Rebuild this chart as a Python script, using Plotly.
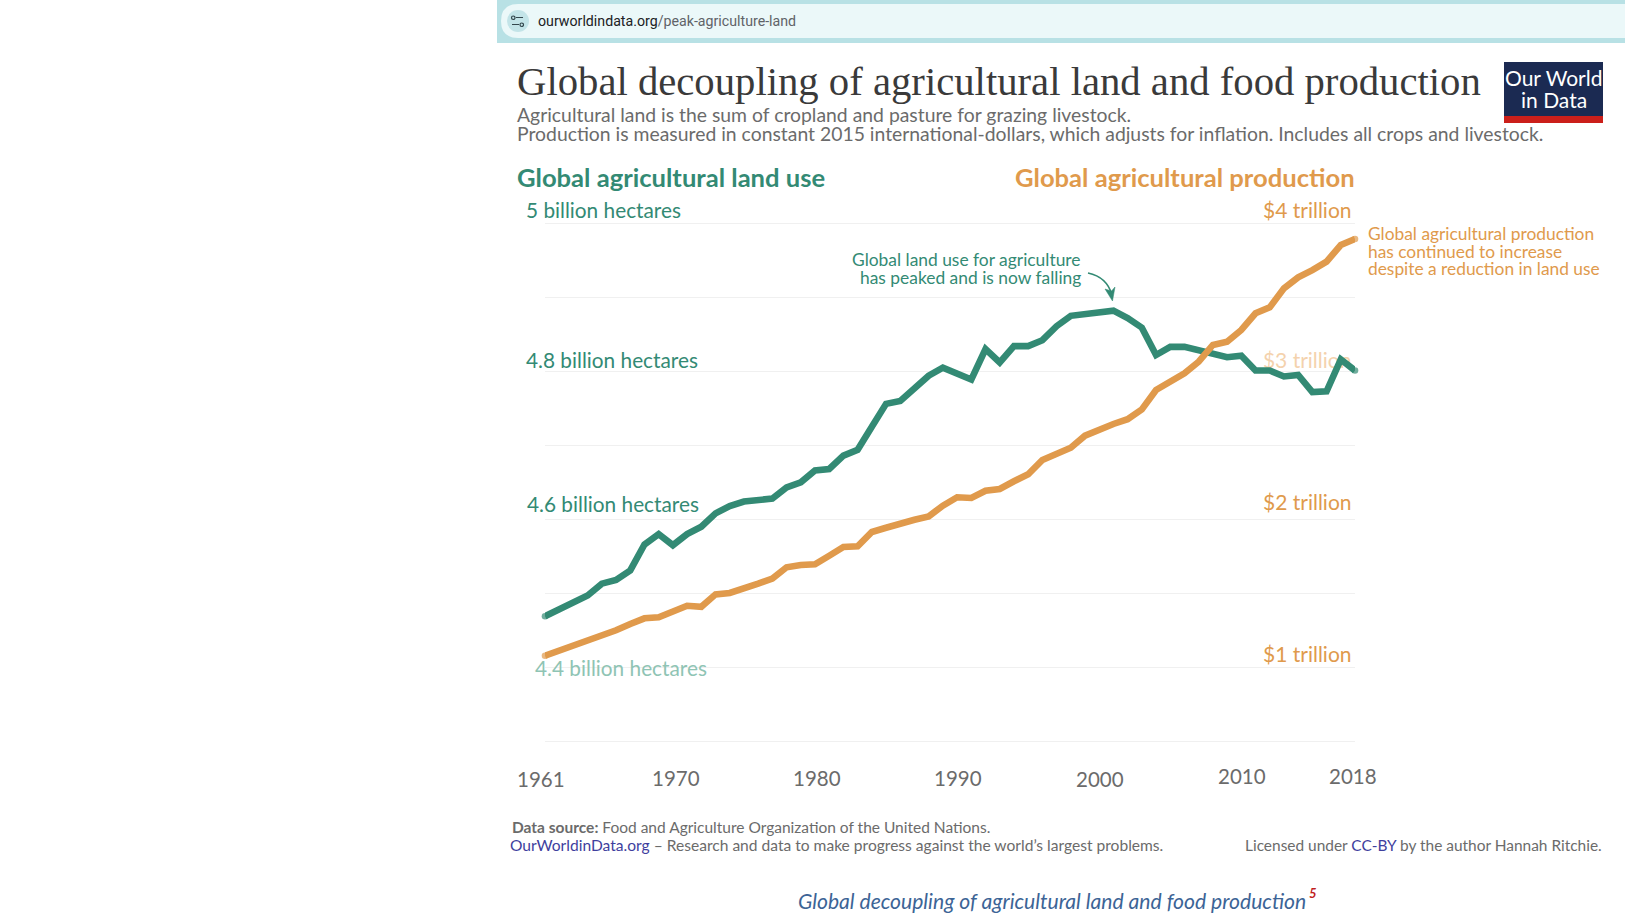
import plotly.graph_objects as go

W, H = 1625, 914
years = list(range(1961, 2019))
land_use = [4.469, 4.478, 4.488, 4.497, 4.513, 4.518, 4.531, 4.566, 4.580, 4.565,
            4.580, 4.590, 4.608, 4.618, 4.624, 4.626, 4.628, 4.643, 4.650, 4.666,
            4.668, 4.686, 4.694, 4.725, 4.756, 4.760, 4.776, 4.794, 4.805, 4.797,
            4.789, 4.830, 4.812, 4.834, 4.834, 4.842, 4.861, 4.875, 4.878, 4.880,
            4.882, 4.872, 4.859, 4.822, 4.833, 4.833, 4.828, 4.822, 4.819, 4.821,
            4.801, 4.801, 4.793, 4.795, 4.772, 4.773, 4.816, 4.801]
production = [1.078, 1.112, 1.146, 1.182, 1.207, 1.250, 1.293, 1.331, 1.338, 1.380,
              1.416, 1.409, 1.493, 1.502, 1.529, 1.565, 1.599, 1.676, 1.691, 1.696,
              1.754, 1.813, 1.818, 1.914, 1.943, 1.975, 1.997, 2.020, 2.092, 2.149,
              2.144, 2.193, 2.205, 2.257, 2.304, 2.401, 2.446, 2.484, 2.565, 2.610,
              2.644, 2.676, 2.743, 2.874, 2.926, 2.986, 3.065, 3.178, 3.200, 3.279,
              3.392, 3.432, 3.561, 3.635, 3.684, 3.741, 3.853, 3.894]

GREEN = "#338a74"
ORANGE = "#e09a4c"
GRAY = "#6b6b6b"
LINK = "#3f3f9e"
FONT = "Lato"
LINE_W = 6.6


def fx(p):
    return p / W


def fy(p):
    return 1 - p / H


end_sizes = [LINE_W] + [0] * (len(years) - 2) + [LINE_W]

fig = go.Figure()
fig.add_trace(go.Scatter(x=[2017.75], y=[4.812], mode="text", text=["$3 trillion"],
                         textposition="middle left", cliponaxis=False, yaxis="y",
                         textfont=dict(family=FONT, size=21, color="#f4d2ad"), showlegend=False))
fig.add_trace(go.Scatter(x=years, y=land_use, mode="lines+markers", yaxis="y", cliponaxis=False,
                         marker=dict(size=end_sizes, color=GREEN, line_width=0),
                         line=dict(color=GREEN, width=LINE_W), showlegend=False))
fig.add_trace(go.Scatter(x=years, y=production, mode="lines+markers", yaxis="y2", cliponaxis=False,
                         marker=dict(size=end_sizes, color=ORANGE, line_width=0),
                         line=dict(color=ORANGE, width=LINE_W), showlegend=False))

ann = []


def t(text, x, y, size, color=GRAY, anchor="left", family=FONT, align=None):
    ann.append(dict(text=text, x=fx(x), y=fy(y), xref="paper", yref="paper", showarrow=False,
                    xanchor=anchor, yanchor="middle", align=align or anchor,
                    font=dict(family=family, size=size, color=color), borderpad=0, borderwidth=0))


t('ourworldindata.org<span style="color:#5f6368">/peak-agriculture-land</span>', 538, 21, 14.2, "#202124", family="Roboto")
t("Global decoupling of agricultural land and food production", 517, 82, 40.7, "#3a3a3a", family="Liberation Serif")
t("Agricultural land is the sum of cropland and pasture for grazing livestock.", 517, 114.3, 19.36, GRAY)
t("Production is measured in constant 2015 international-dollars, which adjusts for inflation. Includes all crops and livestock.", 517, 133.6, 19.36, GRAY)
t("<b>Global agricultural land use</b>", 517, 177, 25.6, GREEN)
t("<b>Global agricultural production</b>", 1355, 177, 25.6, ORANGE, "right")
t("Our World", 1553.5, 77, 21, "#ffffff", "center")
t("in Data", 1553.5, 99, 21, "#ffffff", "center")

left_labels = ["5 billion hectares", "4.8 billion hectares", "4.6 billion hectares", "4.4 billion hectares"]
right_labels = ["$4 trillion", "$2 trillion", "$1 trillion"]
for text, x, y, c in zip(left_labels, [526, 526, 527, 535], [209, 359, 503.5, 667],
                         [GREEN, GREEN, GREEN, "#8fc4b4"]):
    t(text, x, y, 20.8, c)
for text, y in zip(right_labels, [209, 501, 653]):
    t(text, 1352, y, 21, ORANGE, "right")

for text, y in zip(["Global land use for agriculture", "has peaked and is now falling"], [259.5, 277]):
    t(text, 1080.5, y, 17.4, GREEN, "right")
for text, y in zip(["Global agricultural production", "has continued to increase", "despite a reduction in land use"],
                   [233.5, 251, 268.5]):
    t(text, 1367.5, y, 17.35, ORANGE, "left")

x_labels = ["1961", "1970", "1980", "1990", "2000", "2010", "2018"]
for text, x, y in zip(x_labels, [541, 675.5, 817, 958.5, 1100, 1242, 1353], [779, 777.5, 777.5, 777.5, 778.5, 775.5, 775.5]):
    t(text, x, y, 20.5, GRAY, "center")

t("<b>Data source:</b> Food and Agriculture Organization of the United Nations.", 512, 826.5, 15.5, GRAY)
t(f'<span style="color:{LINK}">OurWorldinData.org</span> – Research and data to make progress against the world’s largest problems.', 510, 844.5, 15.58, GRAY)
t(f'Licensed under <span style="color:{LINK}">CC-BY</span> by the author Hannah Ritchie.', 1602, 844.5, 15.45, GRAY, "right")
t("<i>Global decoupling of agricultural land and food production</i>", 798, 900, 21.1, "#3c6496")
t("<i><b>5</b></i>", 1308.5, 893, 13, "#c0201c")

shapes = [
    dict(type="rect", xref="paper", yref="paper", x0=fx(497), x1=1, y0=fy(43), y1=1,
         fillcolor="#b8e1e5", line_width=0, layer="below"),
    dict(type="path", xref="paper", yref="paper", layer="below", fillcolor="#ebf8f9", line_width=0,
         path=f"M {fx(518)} {fy(4)} L 1 {fy(4)} L 1 {fy(38)} L {fx(518)} {fy(38)} "
              f"Q {fx(501)} {fy(38)} {fx(501)} {fy(21)} Q {fx(501)} {fy(4)} {fx(518)} {fy(4)} Z"),
    dict(type="circle", xref="paper", yref="paper", x0=fx(507), x1=fx(529), y0=fy(32), y1=fy(10),
         fillcolor="#c3e4e8", line_width=0, layer="below"),
    dict(type="rect", xref="paper", yref="paper", x0=fx(1504), x1=fx(1603), y0=fy(123), y1=fy(62),
         fillcolor="#1b2a52", line_width=0, layer="below"),
    dict(type="rect", xref="paper", yref="paper", x0=fx(1504), x1=fx(1603), y0=fy(123), y1=fy(116),
         fillcolor="#cb1f1a", line_width=0, layer="below"),
    dict(type="path", xref="paper", yref="paper", line=dict(color=GREEN, width=1.6),
         path=f"M {fx(1088)} {fy(273)} Q {fx(1107)} {fy(277)} {fx(1112)} {fy(295)}"),
    dict(type="path", xref="paper", yref="paper", line=dict(color=GREEN, width=0.5), fillcolor=GREEN,
         path=f"M {fx(1105)} {fy(289)} L {fx(1112.5)} {fy(301)} L {fx(1115)} {fy(287)} L {fx(1111.5)} {fy(291)} Z"),
    dict(type="path", xref="paper", yref="paper", line=dict(color="#33474d", width=1.2),
         path=f"M {fx(516)} {fy(17.5)} L {fx(523)} {fy(17.5)} M {fx(512)} {fy(24.5)} L {fx(519)} {fy(24.5)}"),
    dict(type="circle", xref="paper", yref="paper", x0=fx(511.5), x1=fx(515), y0=fy(19.5), y1=fy(16),
         line=dict(color="#33474d", width=1.2)),
    dict(type="circle", xref="paper", yref="paper", x0=fx(520), x1=fx(523.5), y0=fy(26.5), y1=fy(23),
         line=dict(color="#33474d", width=1.2)),
]

# The value ranges run slightly past the outermost gridlines so those lines are drawn too.
fig.update_layout(
    width=W, height=H, margin=dict(l=0, r=0, t=0, b=0), autosize=False,
    paper_bgcolor="white", plot_bgcolor="white", showlegend=False,
    xaxis=dict(domain=[fx(545), fx(1355)], range=[1961, 2018], showgrid=False, zeroline=False,
               showticklabels=False, ticks="", showline=False),
    yaxis=dict(domain=[fy(748.7), fy(215.9)], range=[4.29, 5.01], tick0=4.3, dtick=0.1, showgrid=True,
               gridcolor="#f0f0f0", gridwidth=1, zeroline=False, showticklabels=False, ticks="", showline=False),
    yaxis2=dict(domain=[fy(748.7), fy(215.9)], overlaying="y", range=[0.45, 4.05], showgrid=False,
                zeroline=False, showticklabels=False, ticks="", showline=False, side="right"),
    annotations=ann, shapes=shapes,
)

fig.write_html("out.html", config=dict(displayModeBar=False),
               post_script="document.body.style.margin='0';document.documentElement.style.overflow='hidden';")
